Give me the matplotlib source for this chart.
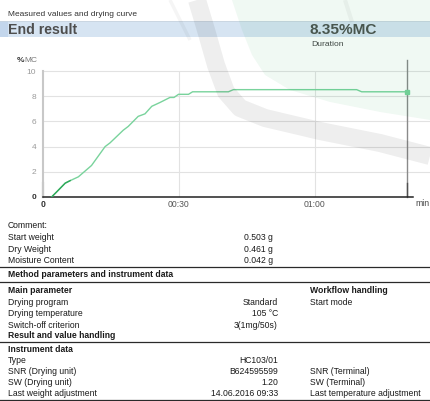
import numpy as np
import matplotlib.pyplot as plt
from matplotlib.patches import Rectangle, Polygon

plt.rcParams['font.family'] = ['Liberation Sans', 'DejaVu Sans']

# drying curve: minutes vs moisture content (%MC)
time_min = [1.9, 3.0, 4.9, 6.0, 7.8, 10.7, 13.7, 14.8, 17.7, 18.8, 21.0, 22.5,
            24.0, 25.8, 28.0, 28.9, 29.9, 32.1, 33.0, 40.9, 42.0, 69.2, 70.3, 80.3]
moisture = [0.0, 0.4, 1.1, 1.3, 1.6, 2.5, 4.0, 4.3, 5.3, 5.6, 6.4, 6.6,
            7.2, 7.5, 7.9, 7.9, 8.15, 8.15, 8.35, 8.35, 8.52, 8.52, 8.35, 8.35]
end_result = 8.35
end_time = 80.3

y_ticks = [0, 2, 4, 6, 8, 10]
x_ticks = [0, 30, 60]
x_ticklabels = ['0', '00:30', '01:00']

# report tables
comment_labels = ['Start weight', 'Dry Weight', 'Moisture Content']
comment_values = ['0.503 g', '0.461 g', '0.042 g']
main_labels = ['Drying program', 'Drying temperature', 'Switch-off criterion']
main_values = ['Standard', '105 \u00b0C', '3(1mg/50s)']
workflow_labels = ['Start mode']
instr_labels = ['Type', 'SNR (Drying unit)', 'SW (Drying unit)', 'Last weight adjustment']
instr_values = ['HC103/01', 'B624595599', '1.20', '14.06.2016 09:33']
terminal_labels = ['', 'SNR (Terminal)', 'SW (Terminal)', 'Last temperature adjustment']

W, H = 430, 401
fig = plt.figure(figsize=(W / 100, H / 100), dpi=100)
fig.patch.set_facecolor('white')


def px(x, y):
    return x / W, 1 - y / H


def txt(x, y, s, size=6.2, **kw):
    kw.setdefault('color', '#1a1a1a')
    kw.setdefault('va', 'center')
    fig.text(*px(x, y), s, fontsize=size, **kw)


# page background: header band and rules
bg = fig.add_axes([0, 0, 1, 1], zorder=-5)
bg.set_xlim(0, W)
bg.set_ylim(H, 0)
bg.axis('off')
bg.add_patch(Rectangle((0, 21), W, 16, facecolor='#d6e4f2', edgecolor='none'))
bg.add_patch(Rectangle((0, 21), 8, 16, facecolor='#c3d6ec', edgecolor='none'))
bg.plot([0, W], [21, 21], color='#c8d4e0', lw=0.6)
for yl in [266.5, 282, 342, 399.5]:
    bg.plot([0, W], [yl, yl], color='#2a2a2a', lw=0.9)

# heading
txt(8, 14, 'Measured values and drying curve', size=6.0, color='#333333')
txt(8, 30, 'End result', size=10.2, fontweight='bold', color='#4e4e4e')
txt(310, 30, f'{end_result:.2f}%MC', size=11.1, fontweight='bold', color='#4d524f')
txt(311, 44, 'Duration', size=6.1, color='#444444')

# chart
ax = fig.add_axes([43 / W, 1 - 197 / H, 370 / W, 126 / H], zorder=1)
ax.set_facecolor('none')
ax.set_xlim(0, 370 / 4.533)
ax.set_ylim(0, 10)
for s in ['top', 'right']:
    ax.spines[s].set_visible(False)
ax.spines['left'].set_color('#c8c8c8')
ax.spines['left'].set_linewidth(1.5)
ax.spines['bottom'].set_color('#222222')
ax.spines['bottom'].set_linewidth(1.1)

for yv in y_ticks[1:]:
    ax.axhline(yv, xmin=0, xmax=(W - 43) / 370, color='#e2e2e2', lw=0.8,
               clip_on=False, zorder=0)
for xv in x_ticks[1:]:
    ax.axvline(xv, color='#e2e2e2', lw=0.8, zorder=0)

ax.plot(time_min, moisture, color='#79d39c', lw=1.0, zorder=3)
ax.plot(time_min[:4], moisture[:4], color='#2ea95a', lw=1.0, zorder=3)
ax.plot([end_time], [end_result], marker='s', ms=2.6, color='#79d39c', zorder=4)

# end-of-run marker line
ax.plot([end_time, end_time], [0, 10.87], color='#8a8a8a', lw=1.0, clip_on=False, zorder=2)
ax.plot([end_time, end_time], [0, 1.1], color='#505050', lw=1.0, zorder=2)
ax.plot([0, 0], [0, 1.1], color='#707070', lw=1.5, clip_on=False, zorder=2)

ax.set_yticks(y_ticks)
ax.set_xticks(x_ticks)
ax.set_xticklabels(x_ticklabels)
ax.tick_params(axis='y', length=0, pad=5, labelsize=6.0, labelcolor='#9a9a9a')
ax.tick_params(axis='x', length=0, pad=2.5, labelsize=6.2, labelcolor='#555555')
for lab in [ax.get_yticklabels()[0], ax.get_xticklabels()[0]]:
    lab.set_fontweight('bold')
    lab.set_color('#333333')

fig.text(*px(17, 61), '%', fontsize=6.0, fontweight='bold', color='#333333', va='center')
fig.text(*px(24, 61), 'MC', fontsize=6.0, color='#777777', va='center')
txt(415, 204, 'min', size=6.2, color='#444444')

# comment block
txt(8, 226, 'Comment:')
for i, (lab, val) in enumerate(zip(comment_labels, comment_values)):
    y = 238 + i * 11.3
    txt(8, y, lab)
    txt(244, y, val)

# method parameters
txt(8, 274.5, 'Method parameters and instrument data', fontweight='bold')
txt(8, 290.5, 'Main parameter', fontweight='bold')
txt(310, 290.5, 'Workflow handling', fontweight='bold')
for i, (lab, val) in enumerate(zip(main_labels, main_values)):
    y = 302.3 + i * 11.5
    txt(8, y, lab)
    txt(278, y, val, ha='right')
for i, lab in enumerate(workflow_labels):
    txt(310, 302.3 + i * 11.5, lab)
txt(8, 335, 'Result and value handling', fontweight='bold')

# instrument data
txt(8, 349.5, 'Instrument data', fontweight='bold')
for i, (lab, val, term) in enumerate(zip(instr_labels, instr_values, terminal_labels)):
    y = 360.5 + i * 11.1
    txt(8, y, lab)
    txt(278, y, val, ha='right')
    if term:
        txt(310, y, term)

# faint watermark over the page
wm = fig.add_axes([0, 0, 1, 1], zorder=10)
wm.set_xlim(0, W)
wm.set_ylim(H, 0)
wm.axis('off')
wm.patch.set_alpha(0)
wm.add_patch(Polygon([(232, 0), (242, 30), (252, 55), (265, 75), (290, 90), (330, 102),
                      (380, 112), (430, 120), (430, 0)],
                     closed=True, facecolor=(0.0, 0.6, 0.25), alpha=0.06, edgecolor='none'))
wm.plot([197, 206, 216, 226, 240, 265, 320, 380, 430],
        [0, 30, 65, 92, 108, 118, 131, 143, 156],
        color='black', alpha=0.065, lw=13, solid_capstyle='butt', solid_joinstyle='round')
wm.plot([170, 190], [0, 40], color='black', alpha=0.04, lw=2.5, solid_capstyle='butt')
wm.plot([345, 352], [0, 22], color='black', alpha=0.04, lw=3, solid_capstyle='butt')

fig.savefig('out.png', dpi=100)
